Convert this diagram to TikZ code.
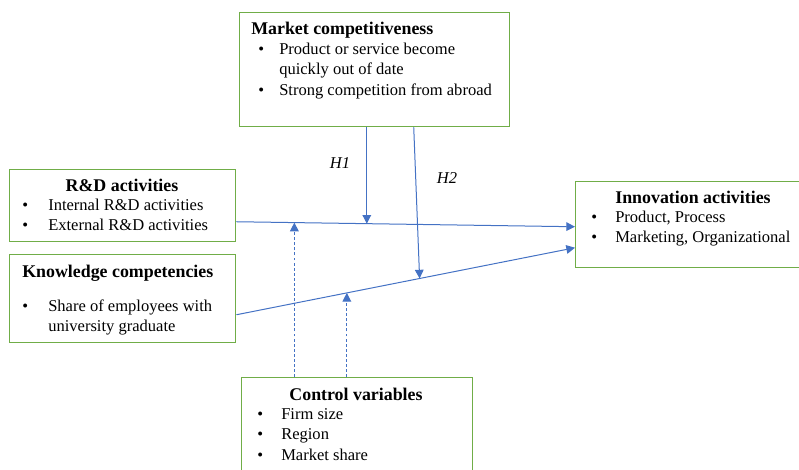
\documentclass[tikz,border=0pt]{standalone}
\usepackage{fontspec}
\setmainfont{Liberation Serif}
\usetikzlibrary{arrows.meta}

\definecolor{boxgreen}{HTML}{70AD47}
\definecolor{linkblue}{HTML}{4472C4}

% bullet list with a fixed hanging indent
\newcommand{\itemlist}[2]{\begin{tabular}[t]{@{}p{#1}@{}l@{}}#2\end{tabular}}

\begin{document}
\begin{tikzpicture}[
    x=0.75pt, y=-0.75pt,
    box/.style={rectangle, draw=boxgreen, line width=1.1pt, anchor=north west, inner sep=0pt},
    head/.style={font=\fontsize{13.4}{16}\selectfont\bfseries, inner sep=0pt},
    list/.style={font=\fontsize{12.4}{15.5}\selectfont, inner sep=0pt, anchor=base west},
    hlabel/.style={font=\fontsize{12.4}{15.5}\selectfont\itshape, inner sep=0pt},
    link/.style={draw=linkblue, line width=0.75pt, -{Triangle[length=6.5pt,width=6.5pt]}},
    ctrl/.style={link, dash pattern=on 2.2pt off 1.6pt}
]
\useasboundingbox (0,0) rectangle (799,469);

% Moderator on top
\node[box, minimum width=202.5pt, minimum height=85.5pt] (market) at (239,12) {};
\node[head, anchor=base west] (markethead) at (251,34) {Market competitiveness};
\node[list] (marketlist) at (258,54) {\itemlist{15.75pt}{%
    \textbullet & Product or service become\\
                & quickly out of date\\
    \textbullet & Strong competition from abroad}};

% Independent variables
\node[box, minimum width=169.5pt, minimum height=54pt] (rd) at (9,169) {};
\node[head, anchor=base] (rdhead) at (122,191) {R\&D activities};
\node[list] (rdlist) at (22,210) {\itemlist{19.5pt}{%
    \textbullet & Internal R\&D activities\\
    \textbullet & External R\&D activities}};

\node[box, minimum width=169.5pt, minimum height=66pt] (know) at (9,254) {};
\node[head, anchor=base west] (knowhead) at (22,277) {Knowledge competencies};
\node[list] (knowlist) at (22,311) {\itemlist{19.5pt}{%
    \textbullet & Share of employees with\\
                & university graduate}};

% Dependent variable
\node[box, minimum width=170.25pt, minimum height=64.5pt] (inno) at (575,181) {};
\node[head, anchor=base] (innohead) at (693,203) {Innovation activities};
\node[list] (innolist) at (591,222) {\itemlist{18pt}{%
    \textbullet & Product, Process\\
    \textbullet & Marketing, Organizational}};

% Controls
\node[box, minimum width=173.25pt, minimum height=75pt] (control) at (241,377) {};
\node[head, anchor=base] (controlhead) at (356,400) {Control variables};
\node[list] (controllist) at (257,419) {\itemlist{18pt}{%
    \textbullet & Firm size\\
    \textbullet & Region\\
    \textbullet & Market share}};

% Main effects
\draw[link] ([yshift=-12pt]rd.east) -- coordinate[pos=0.171] (rdctrl)
    coordinate[pos=0.385] (rdmod) ([yshift=-1.5pt]inno.west);
\draw[link] ([yshift=-12pt]know.east) -- coordinate[pos=0.326] (knowctrl)
    coordinate[pos=0.541] (knowmod) ([yshift=-17.25pt]inno.west);

% Moderation H1, H2
\draw[link] (market.south -| rdmod) -- (rdmod);
\draw[link] ([xshift=29.25pt]market.south) -- (knowmod);
\node[hlabel] (h1) at (340,163) {H1};
\node[hlabel] (h2) at (447,178) {H2};

% Control paths
\draw[ctrl] (control.north -| rdctrl) -- (rdctrl);
\draw[ctrl] (control.north -| knowctrl) -- (knowctrl);

\end{tikzpicture}
\end{document}
